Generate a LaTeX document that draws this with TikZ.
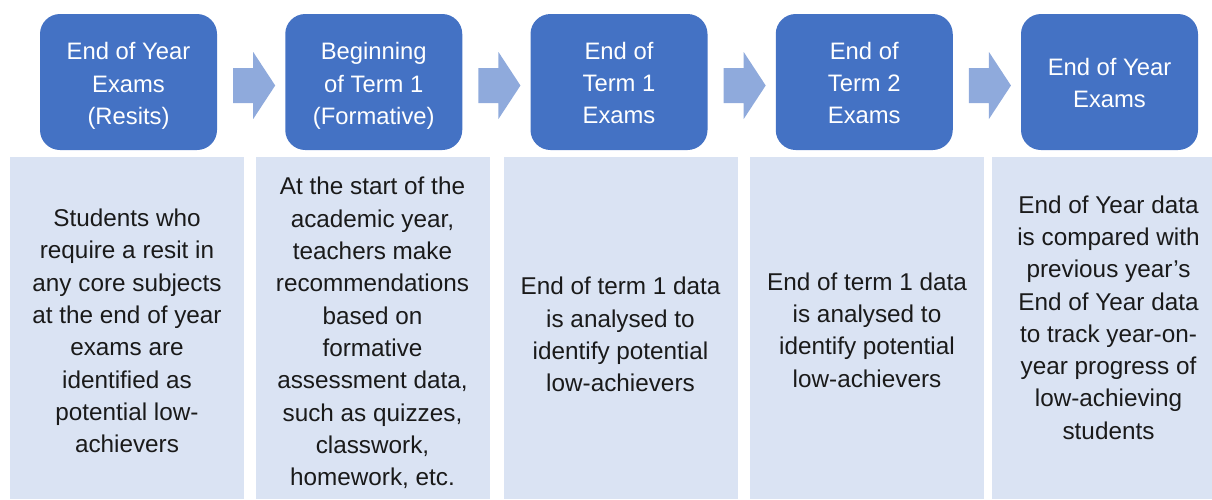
\documentclass[tikz,border=0pt]{standalone}
\usepackage{fontspec}
\setmainfont{Liberation Sans}
\definecolor{boxblue}{HTML}{4472C4}
\definecolor{panelblue}{HTML}{DAE3F3}
\definecolor{arrowblue}{HTML}{8FAADC}
\definecolor{inkblack}{HTML}{1A1A1A}
\begin{document}
\begin{tikzpicture}[x=1pt,y=-1pt,
  stagebox/.style={fill=boxblue, rounded corners=20pt, minimum width=177pt, minimum height=136pt,
    inner sep=0pt, text=white, align=center},
  stagetext/.style={align=center, inner sep=0pt, text=white, font=\fontsize{23.8}{32.3}\selectfont},
  panel/.style={fill=panelblue, inner sep=0pt, outer sep=0pt},
  paneltext/.style={align=center, inner sep=0pt, text=inkblack, font=\fontsize{24.3}{32.3}\selectfont},
  flowarrow/.style={fill=arrowblue}
]
\useasboundingbox (0,0) rectangle (1212,499);

% panels
\path[panel] (10,157) rectangle (244,499);
\path[panel] (256,157) rectangle (490,499);
\path[panel] (504,157) rectangle (738,499);
\path[panel] (750,157) rectangle (984,499);
\path[panel] (992,157) rectangle (1212,499);

% stage boxes
\node[stagebox] (b1) at (128.5,82) {};
\node[stagebox] (b2) at (373.75,82) {};
\node[stagebox] (b3) at (619,82) {};
\node[stagebox] (b4) at (864.25,82) {};
\node[stagebox] (b5) at (1109.5,82) {};
\node[stagetext] (l1) at ([yshift=-4pt]b1.center) {End of Year\\Exams\\(Resits)};
\node[stagetext] (l2) at ([yshift=-4pt]b2.center) {Beginning\\of Term 1\\(Formative)};
\node[stagetext] (l3) at ([yshift=-1pt]b3.center) {End of\\Term 1\\Exams};
\node[stagetext] (l4) at ([yshift=-1pt]b4.center) {End of\\Term 2\\Exams};
\node[stagetext] (l5) at ([yshift=-1pt]b5.center) {End of Year\\Exams};

% arrows between boxes
\foreach \a in {b1,b2,b3,b4}{
  \coordinate (s\a) at ([yshift=-3.5pt]\a.east);
  \fill[flowarrow] ([shift={(16,-17.5)}]s\a) -- ([shift={(36,-17.5)}]s\a) -- ([shift={(36,-33.5)}]s\a)
    -- ([shift={(58,0)}]s\a) -- ([shift={(36,33.5)}]s\a) -- ([shift={(36,17.5)}]s\a)
    -- ([shift={(16,17.5)}]s\a) -- cycle;
}

% panel texts
\node[paneltext] (t1) at (127,331) {Students who\\require a resit in\\any core subjects\\at the end of year\\exams are\\identified as\\potential low-\\achievers};
\node[paneltext] (t2) at (372.5,333) {At the start of the\\academic year,\\teachers make\\recommendations\\based on\\formative\\assessment data,\\such as quizzes,\\classwork,\\homework, etc.};
\node[paneltext] (t3) at (620.5,334.5) {End of term 1 data\\is analysed to\\identify potential\\low-achievers};
\node[paneltext] (t4) at (867,330) {End of term 1 data\\is analysed to\\identify potential\\low-achievers};
\node[paneltext] (t5) at (1108.5,317.5) {End of Year data\\is compared with\\previous year’s\\End of Year data\\to track year-on-\\year progress of\\low-achieving\\students};
\end{tikzpicture}
\end{document}
